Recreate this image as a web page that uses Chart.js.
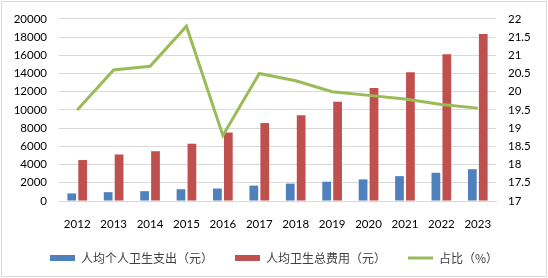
<!DOCTYPE html>
<html><head><meta charset="utf-8">
<script src="https://cdn.jsdelivr.net/npm/chart.js@4.4.1/dist/chart.umd.min.js"></script>
<style>
html,body{margin:0;padding:0;background:#fff;}
#wrap{position:relative;width:548px;height:278px;}
#frame{position:absolute;left:1px;top:1px;width:544px;height:274px;border:1px solid #d9d9d9;pointer-events:none;}
canvas{position:absolute;left:0;top:0;}
</style></head>
<body>
<div id="wrap"><canvas id="c" width="548" height="278"></canvas><div id="frame"></div></div>
<script>
const years = ['2012','2013','2014','2015','2016','2017','2018','2019','2020','2021','2022','2023'];
const personalSpend = [830, 970, 1080, 1295, 1370, 1690, 1910, 2120, 2370, 2730, 3100, 3490];
const totalSpend = [4500, 5110, 5470, 6290, 7520, 8560, 9420, 10900, 12410, 14140, 16110, 18350];
const shareRatio = [19.5, 20.6, 20.7, 21.8, 18.8, 20.5, 20.3, 20.0, 19.9, 19.8, 19.65, 19.55];
const leftTicks = [0, 2000, 4000, 6000, 8000, 10000, 12000, 14000, 16000, 18000, 20000];
const rightTicks = [17, 17.5, 18, 18.5, 19, 19.5, 20, 20.5, 21, 21.5, 22];
const seriesNames = ['人均个人卫生支出（元）', '人均卫生总费用（元）', '占比（%）'];

const tickFont = {family: 'Lato, "Noto Sans", sans-serif', size: 11.5};
const cjkFont = {family: '"Noto Sans CJK SC", sans-serif', size: 12};

const legendShift = {
  id: 'legendShift',
  afterLayout(chart) {
    if (chart.legend) { chart.legend.top -= 3; chart.legend.bottom -= 3; }
  }
};

new Chart(document.getElementById('c'), {
  plugins: [legendShift],
  data: {
    labels: years,
    datasets: [
      {type: 'line', label: seriesNames[2], data: shareRatio, yAxisID: 'y2',
       borderColor: '#9BBB59', backgroundColor: '#9BBB59', borderWidth: 3,
       pointRadius: 0, tension: 0, order: 0},
      {type: 'bar', label: seriesNames[0], data: personalSpend, yAxisID: 'y',
       backgroundColor: '#4F81BD', borderWidth: 0,
       barPercentage: 0.8, categoryPercentage: 0.6, order: 1},
      {type: 'bar', label: seriesNames[1], data: totalSpend, yAxisID: 'y',
       backgroundColor: '#C0504D', borderWidth: 0,
       barPercentage: 0.8, categoryPercentage: 0.6, order: 1}
    ]
  },
  options: {
    responsive: false,
    animation: false,
    layout: {padding: {top: 8, left: 0, right: 0, bottom: 1}},
    plugins: {
      tooltip: {enabled: false},
      legend: {
        position: 'bottom',
        labels: {
          font: cjkFont, color: '#404040',
          usePointStyle: true, pointStyleWidth: 25, boxHeight: 6,
          padding: 22,
          sort: (a, b) => {
            const ord = [1, 2, 0];
            return ord.indexOf(a.datasetIndex) - ord.indexOf(b.datasetIndex);
          },
          generateLabels: (chart) => {
            const items = Chart.defaults.plugins.legend.labels.generateLabels(chart);
            items.forEach(it => {
              if (it.datasetIndex === 0) { it.pointStyle = 'line'; it.lineWidth = 3; it.strokeStyle = '#9BBB59'; }
              else { it.pointStyle = 'rect'; it.lineWidth = 0; }
            });
            return items;
          }
        }
      }
    },
    scales: {
      x: {
        grid: {display: false, drawTicks: false},
        border: {display: true, color: '#d9d9d9'},
        ticks: {font: tickFont, color: '#000', padding: 16},
        afterFit: s => { s.height = 32; }
      },
      y: {
        position: 'left', min: 0, max: 20000,
        afterBuildTicks: s => { s.ticks = leftTicks.map(v => ({value: v})); },
        grid: {color: '#d9d9d9', drawTicks: false},
        border: {display: false},
        ticks: {font: tickFont, color: '#000', padding: 12, callback: v => String(v)},
        afterFit: s => { s.width = 59; }
      },
      y2: {
        position: 'right', min: 17, max: 22,
        afterBuildTicks: s => { s.ticks = rightTicks.map(v => ({value: v})); },
        grid: {display: false, drawTicks: false},
        border: {display: false},
        ticks: {font: tickFont, color: '#000', padding: 12, callback: v => String(v)},
        afterFit: s => { s.width = 52; }
      }
    }
  }
});
</script>
</body></html>
